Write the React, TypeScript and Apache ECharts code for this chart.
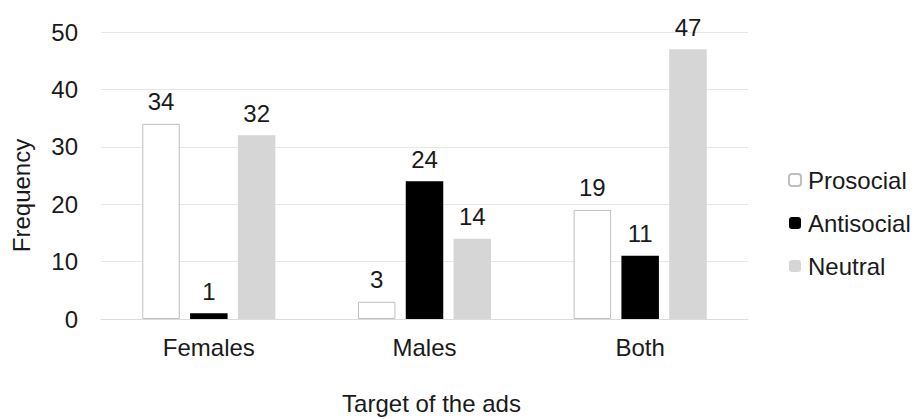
import React, { useEffect, useRef } from "react";
import * as echarts from "echarts";

const categories = ["Females", "Males", "Both"];
const prosocial = [34, 3, 19];
const antisocial = [1, 24, 11];
const neutral = [32, 14, 47];
const yTicks = { min: 0, max: 50, interval: 10 };

const FONT = "'Liberation Sans', Arial, sans-serif";
const TXT = "#1a1a1a";
const FS = 24;

export default function App() {
  const ref = useRef<HTMLDivElement>(null);
  useEffect(() => {
    document.body.style.margin = "0";
    const chart = echarts.init(ref.current!, null, { renderer: "svg" });
    const label = {
      show: true,
      position: "top" as const,
      distance: 10,
      fontSize: FS,
      color: TXT,
      fontFamily: FONT,
    };
    chart.setOption({
      animation: false,
      textStyle: { fontFamily: FONT },
      grid: { left: 101, right: 168, top: 32, bottom: 100, outerBoundsMode: "none" },
      legend: {
        orient: "vertical",
        left: 783,
        top: 163,
        itemWidth: 12,
        itemHeight: 12,
        itemGap: 19,
        textStyle: { fontSize: FS, lineHeight: 24, color: TXT, fontFamily: FONT, padding: [0, 0, 0, 2] },
        data: ["Prosocial", "Antisocial", "Neutral"],
      },
      xAxis: {
        type: "category",
        data: categories,
        name: "Target of the ads",
        nameLocation: "middle",
        nameGap: 72,
        nameTextStyle: { fontSize: FS, color: TXT, fontFamily: FONT, padding: [0, 0, 0, 14] },
        axisLine: { show: true, lineStyle: { color: "#dcdcdc" } },
        axisTick: { show: false },
        axisLabel: { fontSize: FS, color: TXT, fontFamily: FONT, margin: 16 },
      },
      yAxis: {
        type: "value",
        min: yTicks.min,
        max: yTicks.max,
        interval: yTicks.interval,
        name: "Frequency",
        nameLocation: "middle",
        nameGap: 68,
        nameTextStyle: { fontSize: FS, color: TXT, fontFamily: FONT, padding: [0, 40, 0, 0] },
        axisLine: { show: false },
        axisTick: { show: false },
        axisLabel: { fontSize: FS, color: TXT, fontFamily: FONT, margin: 23 },
        splitLine: { lineStyle: { color: "#e6e6e6" } },
      },
      series: [
        {
          name: "Prosocial",
          type: "bar",
          data: prosocial,
          barWidth: 37.5,
          barGap: "27.5%",
          itemStyle: { color: "#ffffff", borderColor: "#bfbfbf", borderWidth: 1 },
          label,
        },
        {
          name: "Antisocial",
          type: "bar",
          data: antisocial,
          barWidth: 37.5,
          barGap: "27.5%",
          itemStyle: { color: "#000000" },
          label,
        },
        {
          name: "Neutral",
          type: "bar",
          data: neutral,
          barWidth: 37.5,
          barGap: "27.5%",
          itemStyle: { color: "#d6d6d6" },
          label,
        },
      ],
    });
    return () => chart.dispose();
  }, []);
  return <div ref={ref} style={{ width: 916, height: 419 }} />;
}
